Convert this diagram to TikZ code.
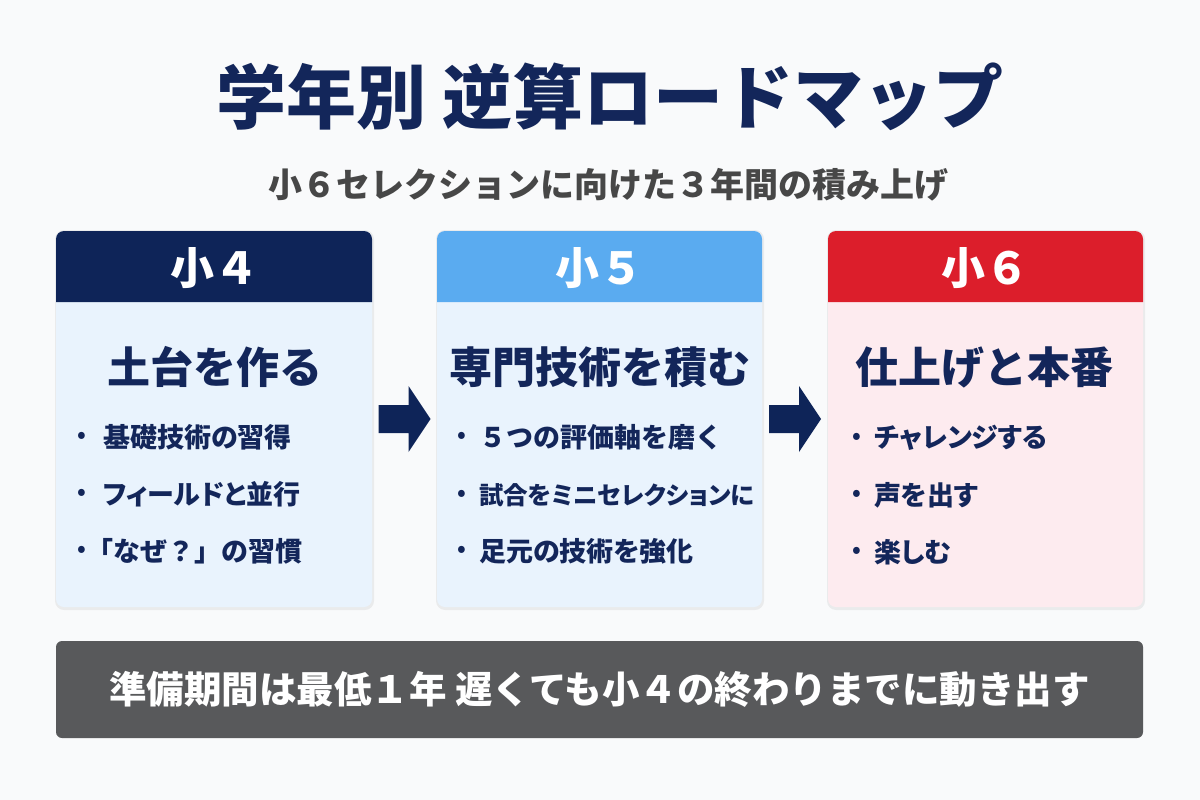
\documentclass[tikz,border=0pt]{standalone}
\usepackage{fontspec}
\setmainfont{Noto Sans CJK JP}
\newfontfamily\cjkp{Noto Sans CJK JP}[RawFeature=+palt]
\usetikzlibrary{calc}
\definecolor{navy}{HTML}{13265A}
\definecolor{hdrA}{HTML}{0E2458}
\definecolor{hdrB}{HTML}{5AABF0}
\definecolor{hdrC}{HTML}{DC1E2B}
\definecolor{bodyA}{HTML}{E9F3FD}
\definecolor{bodyC}{HTML}{FDEBEF}
\definecolor{subgray}{HTML}{474747}
\definecolor{bargray}{HTML}{58595B}
\definecolor{bgcol}{HTML}{F9FAFB}
\tikzset{
  cardbody/.style={rectangle, rounded corners=8pt, inner sep=0pt, outer sep=0pt, draw=none},
  hdrtext/.style={text=white, font=\fontsize{44}{44}\selectfont\bfseries},
  heading/.style={text=navy, font=\fontsize{43}{43}\selectfont\bfseries},
  bullet/.style={text=navy, font=\fontsize{22}{22}\selectfont\bfseries},
  item/.style={text=navy, anchor=west, inner sep=0pt, font=\cjkp\fontsize{27}{27}\selectfont\bfseries},
  itemfw/.style={text=navy, anchor=west, inner sep=0pt, font=\fontsize{27}{27}\selectfont\bfseries},
  blockarrow/.style={fill=hdrA},
}
\newcommand\myarrow[1]{%
  \fill[blockarrow] ($(#1)+(-26,-14)$) -- ($(#1)+(4,-14)$) -- ($(#1)+(4,-33)$) -- ($(#1)+(26,0)$)
   -- ($(#1)+(4,33)$) -- ($(#1)+(4,14)$) -- ($(#1)+(-26,14)$) -- cycle;}
\newcommand\myheader[3]{%
  \fill[#2] ([yshift=-71pt]#1.north west) {[rounded corners=8pt] -- (#1.north west) -- (#1.north east)}
   -- ([yshift=-71pt]#1.north east) -- cycle;
  \node[hdrtext] (#1h) at ([yshift=-37pt]#1.north) {#3};}
\begin{document}
\begin{tikzpicture}[x=1pt,y=-1pt]
\useasboundingbox (0,0) rectangle (1200,800);
\fill[bgcol] (0,0) rectangle (1200,800);

\node[text=navy, font=\fontsize{70}{70}\selectfont\bfseries] (title) at (610,97) {学年別 逆算ロードマップ};
\node[text=subgray, font=\fontsize{34}{34}\selectfont\bfseries] (subtitle) at (608,185) {小６セレクションに向けた３年間の積み上げ};

% shadows
\foreach \cx/\cy/\w in {214/419/316, 599.5/419/325, 985.5/419/315}
  \fill[black, opacity=0.06, rounded corners=9pt] (\cx-\w/2-1,230) rectangle (\cx+\w/2+2,610);

\node[cardbody, fill=bodyA, minimum width=316pt, minimum height=376pt] (c1) at (214,419) {};
\node[cardbody, fill=bodyA, minimum width=325pt, minimum height=376pt] (c2) at (599.5,419) {};
\node[cardbody, fill=bodyC, minimum width=315pt, minimum height=376pt] (c3) at (985.5,419) {};

\myheader{c1}{hdrA}{小４}
\myheader{c2}{hdrB}{小５}
\myheader{c3}{hdrC}{小６}

\node[heading] (t1) at (215,367) {土台を作る};
\node[heading] (t2) at (600,367) {専門技術を積む};
\node[heading] (t3) at (984,367) {仕上げと本番};

% card 1 bullets
\node[bullet] (b11) at (82,437) {•};
\node[bullet] (b12) at (82,494) {•};
\node[bullet] (b13) at (82,551) {•};
\node[item] (i11) at (103,437) {基礎技術の習得};
\node[item] (i12) at (103,494) {フィールドと並行};
\node[itemfw] (i13) at (86,551) {「なぜ？」の習慣};
% card 2 bullets
\node[bullet] (b21) at (462,437) {•};
\node[bullet] (b22) at (462,495) {•};
\node[bullet] (b23) at (462,551) {•};
\node[itemfw] (i21) at (479,437) {５つの評価軸を磨く};
\node[item, font=\cjkp\fontsize{24.5}{24.5}\selectfont\bfseries] (i22) at (479,495) {試合をミニセレクションに};
\node[item] (i23) at (479,551) {足元の技術を強化};
% card 3 bullets
\node[bullet] (b31) at (857,438) {•};
\node[bullet] (b32) at (857,495) {•};
\node[bullet] (b33) at (857,552) {•};
\node[item] (i31) at (874,438) {チャレンジする};
\node[item] (i32) at (874,495) {声を出す};
\node[item] (i33) at (874,552) {楽しむ};

% arrows between cards
\coordinate (a1) at ($(c1.east)!0.5!(c2.west)$);
\coordinate (a2) at ($(c2.east)!0.5!(c3.west)$);
\myarrow{a1}
\myarrow{a2}

% bottom bar
\node[cardbody, rounded corners=6pt, fill=bargray, minimum width=1087pt, minimum height=97pt,
  text=white, font=\fontsize{37.5}{37.5}\selectfont\bfseries] (bar) at (599.5,689.5)
  {準備期間は最低１年 遅くても小４の終わりまでに動き出す};
\end{tikzpicture}
\end{document}
